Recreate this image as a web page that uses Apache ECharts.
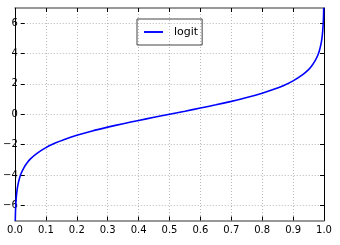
<!DOCTYPE html>
<html>
<head>
<meta charset="utf-8">
<script src="https://cdn.jsdelivr.net/npm/echarts@6/dist/echarts.min.js"></script>
<style>
html,body{margin:0;padding:0;background:#fff;}
#chart{width:340px;height:245px;}
</style>
</head>
<body>
<div id="chart"></div>
<script>
// values
var xValues = [0.0009, 0.002, 0.004, 0.007, 0.01, 0.015, 0.02, 0.03, 0.04, 0.05, 0.07, 0.1, 0.13, 0.16, 0.2, 0.25, 0.3, 0.35, 0.4, 0.45, 0.5, 0.55, 0.6, 0.65, 0.7, 0.75, 0.8, 0.84, 0.87, 0.9, 0.93, 0.95, 0.96, 0.97, 0.98, 0.985, 0.99, 0.993, 0.996, 0.998, 0.9991];
var yValues = [-7.01, -6.21, -5.52, -4.95, -4.60, -4.18, -3.89, -3.48, -3.18, -2.94, -2.59, -2.20, -1.90, -1.66, -1.39, -1.10, -0.85, -0.62, -0.41, -0.20, 0.00, 0.20, 0.41, 0.62, 0.85, 1.10, 1.39, 1.66, 1.90, 2.20, 2.59, 2.94, 3.18, 3.48, 3.89, 4.18, 4.60, 4.95, 5.52, 6.21, 7.01];
var seriesName = 'logit';
var yRange = [-7, 7];
var yTickRange = [-6, 6];
var yTickStep = 2;

var data = xValues.map(function (x, i) { return [x, yValues[i]]; });
var chart = echarts.init(document.getElementById('chart'), null, {renderer: 'canvas'});
var fontFamily = 'DejaVu Sans';
function fmtY(v) { return v < 0 ? '\u2212' + Math.abs(v) : String(v); }
var gridStyle = {color: '#b8b8b8', width: 1, type: [1, 2]};

// main plot area
var gTop = 8, gBottom = 24.5, gLeft = 15, gRight = 16;
var plotH = 245 - gTop - gBottom;
var unit = plotH / (yRange[1] - yRange[0]);
// second grid aligned so that the tick range maps onto the same pixels
var g2Top = gTop + (yRange[1] - yTickRange[1]) * unit;
var g2Bottom = gBottom + (yTickRange[0] - yRange[0]) * unit;

chart.setOption({
  animation: false,
  grid: [
    {left: gLeft, right: gRight, top: gTop, bottom: gBottom},
    {left: gLeft, right: gRight, top: g2Top, bottom: g2Bottom}
  ],
  legend: {
    left: 137, top: 19,
    padding: [6, 4, 6, 7],
    borderColor: '#444', borderWidth: 1, borderRadius: 0,
    icon: 'path://M0,0 L20,0 L20,2 L0,2 Z',
    itemWidth: 19, itemHeight: 2,
    textStyle: {fontFamily: fontFamily, fontSize: 11, lineHeight: 14, color: '#000', padding: [0, 0, 0, 6]},
    data: [seriesName]
  },
  xAxis: [{
    gridIndex: 0, type: 'value', min: 0, max: 1, interval: 0.1, position: 'bottom',
    axisLine: {show: true, onZero: false, lineStyle: {color: '#777', width: 1.5}},
    axisTick: {show: true, inside: true, length: 4, lineStyle: {color: '#000'}},
    axisLabel: {fontFamily: fontFamily, fontSize: 10, color: '#000', margin: 5, formatter: function (v) { return v.toFixed(1); }},
    splitLine: {show: true, lineStyle: gridStyle}
  }, {
    gridIndex: 0, type: 'value', min: 0, max: 1, interval: 0.1, position: 'top',
    axisLine: {show: true, onZero: false, lineStyle: {color: '#777', width: 1.5}},
    axisTick: {show: true, inside: true, length: 4, lineStyle: {color: '#000'}},
    axisLabel: {show: false}, splitLine: {show: false}
  }, {
    gridIndex: 1, type: 'value', min: 0, max: 1, show: false
  }],
  yAxis: [{
    gridIndex: 0, type: 'value', min: yRange[0], max: yRange[1], position: 'left',
    axisLine: {show: true, onZero: false, lineStyle: {color: '#000', width: 1}},
    axisTick: {show: false}, axisLabel: {show: false}, splitLine: {show: false}
  }, {
    gridIndex: 0, type: 'value', min: yRange[0], max: yRange[1], position: 'right',
    axisLine: {show: true, onZero: false, lineStyle: {color: '#000', width: 1}},
    axisTick: {show: false}, axisLabel: {show: false}, splitLine: {show: false}
  }, {
    gridIndex: 1, type: 'value', min: yTickRange[0], max: yTickRange[1], interval: yTickStep, position: 'left',
    axisLine: {show: false, onZero: false},
    axisTick: {show: true, inside: true, length: 4, lineStyle: {color: '#000'}},
    axisLabel: {fontFamily: fontFamily, fontSize: 10, color: '#000', margin: 3, formatter: fmtY},
    splitLine: {show: true, lineStyle: gridStyle}
  }, {
    gridIndex: 1, type: 'value', min: yTickRange[0], max: yTickRange[1], interval: yTickStep, position: 'right',
    axisLine: {show: false, onZero: false},
    axisTick: {show: true, inside: true, length: 4, lineStyle: {color: '#000'}},
    axisLabel: {show: false}, splitLine: {show: false}
  }],
  series: [{
    name: seriesName, type: 'line', data: data, smooth: 0.3,
    xAxisIndex: 0, yAxisIndex: 0,
    symbol: 'none', clip: true, z: 3,
    lineStyle: {color: '#0000ff', width: 1.6},
    itemStyle: {color: '#0000ff'}
  }]
});
</script>
</body>
</html>
